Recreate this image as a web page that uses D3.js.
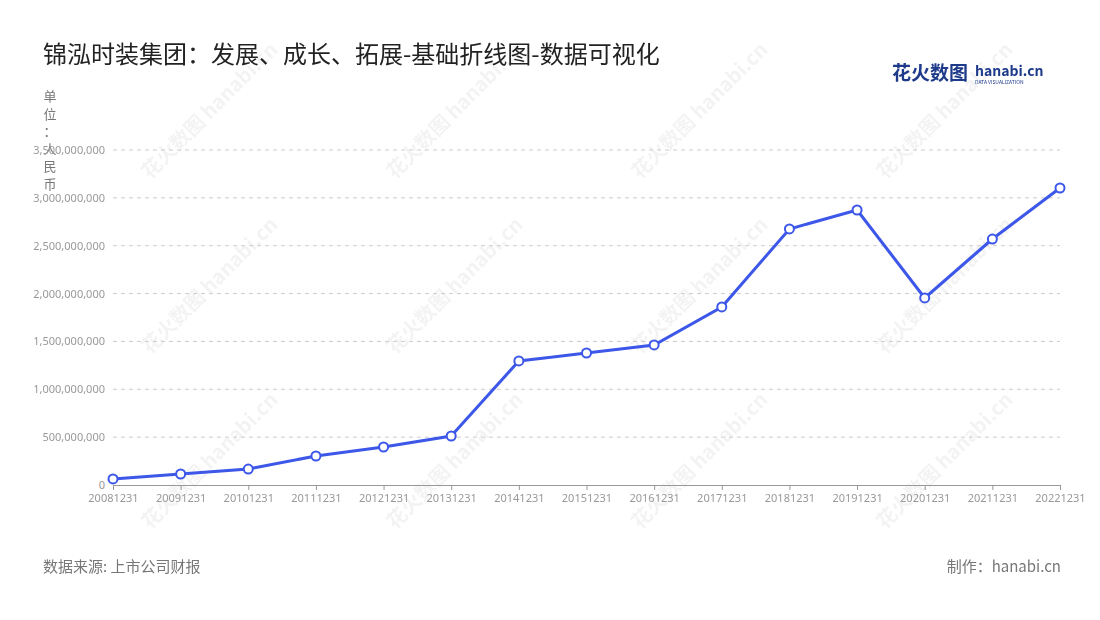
<!DOCTYPE html>
<html><head><meta charset="utf-8">
<script src="https://cdn.jsdelivr.net/npm/d3@7"></script>
<style>body{margin:0;background:#fff;font-family:"Noto Sans CJK SC","Noto Sans",sans-serif}</style>
</head><body><svg id="c" width="1100" height="620"></svg>
<script>
const categories=["20081231","20091231","20101231","20111231","20121231","20131231","20141231","20151231","20161231","20171231","20181231","20191231","20201231","20211231","20221231"];
const values=[63e6,115e6,167e6,303e6,397e6,512e6,1296e6,1379e6,1463e6,1860e6,2675e6,2873e6,1954e6,2570e6,3103e6];
const yTicks=[0,5e8,1e9,1.5e9,2e9,2.5e9,3e9,3.5e9];
const svg=d3.select("#c");
const L=113,R=1060,T=150,B=485;
const x=d3.scalePoint().domain(categories).range([L,R]).padding(0);
const y=d3.scaleLinear().domain([0,3.5e9]).range([B,T]);
const wm=svg.append("g").attr("fill","#000").attr("opacity",0.05).attr("font-weight","bold");
for(let i=0;i<4;i++)for(let j=0;j<3;j++){
  const cx=150+i*245, cy=180+j*175;
  wm.append("text").attr("transform",`translate(${cx},${cy}) rotate(-45)`).attr("font-size",20).text("花火数图 hanabi.cn");
}
svg.append("text").attr("x",43).attr("y",63).attr("font-size",24).attr("fill","#222").text("锦泓时装集团：发展、成长、拓展-基础折线图-数据可视化");
svg.append("text").attr("x",892).attr("y",80).attr("font-size",19).attr("font-weight","bold").attr("fill","#1e3a8a").text("花火数图");
svg.append("text").attr("x",975).attr("y",76).attr("font-size",14).attr("font-weight","bold").attr("fill","#1e3a8a").text("hanabi.cn");
svg.append("text").attr("x",975).attr("y",84).attr("font-size",5).attr("fill","#1e3a8a").text("DATA VISUALIZATION");
const ul="单位：人民币".split("");
ul.forEach((c,i)=>svg.append("text").attr("x",50).attr("y",101+i*17.5).attr("font-size",13).attr("fill","#777").attr("text-anchor","middle").text(c));
svg.append("g").selectAll("line").data(yTicks.slice(1)).join("line")
 .attr("x1",L).attr("x2",R).attr("y1",d=>y(d)).attr("y2",d=>y(d))
 .attr("stroke","#ccc").attr("stroke-dasharray","4,4");
const ya=svg.append("g").attr("transform",`translate(${L},0)`).call(d3.axisLeft(y).tickValues(yTicks).tickFormat(d3.format(",")).tickSize(0).tickPadding(8));
ya.select(".domain").remove();
ya.selectAll("text").attr("fill","#999").attr("font-size",11).attr("font-family","Noto Sans");
const xa=svg.append("g").attr("transform",`translate(0,${B})`).call(d3.axisBottom(x).tickSize(5).tickPadding(4));
xa.select(".domain").attr("stroke","#999");
xa.selectAll("line").attr("stroke","#999");
xa.selectAll("text").attr("fill","#999").attr("font-size",11).attr("font-family","Noto Sans");
svg.append("path").datum(values).attr("fill","none").attr("stroke","#3d57e8").attr("stroke-width",3)
 .attr("d",d3.line().x((d,i)=>x(categories[i])).y(d=>y(d)));
svg.append("g").selectAll("circle").data(values).join("circle")
 .attr("cx",(d,i)=>x(categories[i])).attr("cy",d=>y(d)).attr("r",4.5)
 .attr("fill","#fff").attr("stroke","#3d57e8").attr("stroke-width",2);
svg.append("text").attr("x",43).attr("y",572).attr("font-size",15).attr("fill","#777").text("数据来源: 上市公司财报");
svg.append("text").attr("x",1061).attr("y",572).attr("font-size",15).attr("fill","#777").attr("text-anchor","end").text("制作：hanabi.cn");
</script></body></html>
